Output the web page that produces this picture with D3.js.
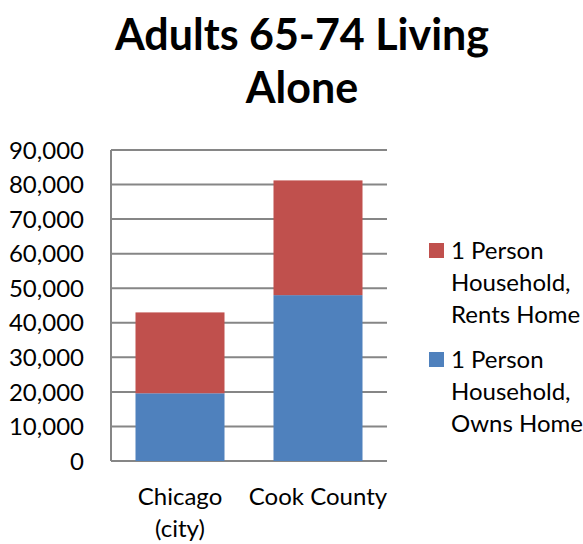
<!DOCTYPE html>
<html>
<head>
<meta charset="utf-8">
<script src="https://cdn.jsdelivr.net/npm/d3@7"></script>
<style>
  body { margin: 0; background: #fff; }
  svg { display: block; font-family: Lato, "Open Sans", sans-serif; }
</style>
</head>
<body>
<svg id="chart" width="583" height="544"></svg>
<script>
// categories and series
const categories = ["Chicago (city)", "Cook County"];
const ownsHome = [19600, 48000];
const rentsHome = [23400, 33200];
const series = ["1 Person Household, Owns Home", "1 Person Household, Rents Home"];
const yTicks = [0, 10000, 20000, 30000, 40000, 50000, 60000, 70000, 80000, 90000];

const colors = { owns: "#4F81BD", rents: "#C0504D" };

const svg = d3.select("#chart");
const margin = { left: 111, right: 196, top: 150, bottom: 83 };
const width = 583 - margin.left - margin.right;
const height = 544 - margin.top - margin.bottom;

const x = d3.scaleBand().domain(categories).range([0, width]).paddingInner(0.355).paddingOuter(0.1775);
const y = d3.scaleLinear().domain([0, 90000]).range([height, 0]);

// title
svg.append("text")
  .attr("x", 302).attr("y", 50)
  .attr("text-anchor", "middle")
  .attr("font-size", 43).attr("font-weight", "bold")
  .text("Adults 65-74 Living");
svg.append("text")
  .attr("x", 302).attr("y", 103)
  .attr("text-anchor", "middle")
  .attr("font-size", 43).attr("font-weight", "bold")
  .text("Alone");

const g = svg.append("g").attr("transform", `translate(${margin.left},${margin.top})`);

// gridlines
g.selectAll(".grid").data(yTicks).join("line")
  .attr("x1", 0).attr("x2", width)
  .attr("y1", d => y(d)).attr("y2", d => y(d))
  .attr("stroke", "#868686").attr("stroke-width", 2);

// stacked bars
const rows = categories.map((c, i) => ({ cat: c, owns: ownsHome[i], rents: rentsHome[i] }));
const stacked = d3.stack().keys(["owns", "rents"])(rows);

g.selectAll(".layer").data(stacked).join("g")
  .attr("fill", d => colors[d.key])
  .selectAll("rect").data(d => d).join("rect")
  .attr("x", d => x(d.data.cat))
  .attr("width", x.bandwidth())
  .attr("y", d => y(d[1]))
  .attr("height", d => y(d[0]) - y(d[1]));

// y axis line
g.append("line")
  .attr("x1", 0).attr("x2", 0).attr("y1", 0).attr("y2", height)
  .attr("stroke", "#868686").attr("stroke-width", 2);

// y tick labels
const fmt = d3.format(",");
g.selectAll(".ylab").data(yTicks).join("text")
  .attr("x", -27).attr("y", d => y(d))
  .attr("dy", "0.36em")
  .attr("text-anchor", "end")
  .attr("font-size", 24).attr("fill", "#000")
  .text(d => fmt(d));

// x labels
const xLabelLines = [["Chicago", "(city)"], ["Cook County"]];
categories.forEach((c, i) => {
  const t = g.append("text")
    .attr("x", x(c) + x.bandwidth() / 2)
    .attr("y", height + 44)
    .attr("text-anchor", "middle")
    .attr("font-size", 24);
  xLabelLines[i].forEach((line, j) => {
    t.append("tspan").attr("x", x(c) + x.bandwidth() / 2).attr("dy", j === 0 ? 0 : 32).text(line);
  });
});

// legend (rents first, as in the picture)
const legendItems = [
  { key: "rents", lines: ["1 Person", "Household,", "Rents Home"] },
  { key: "owns", lines: ["1 Person", "Household,", "Owns Home"] }
];
const legend = svg.append("g").attr("transform", "translate(429,243)");
legendItems.forEach((item, i) => {
  const gy = i * 109;
  legend.append("rect")
    .attr("x", 0).attr("y", gy)
    .attr("width", 15).attr("height", 15)
    .attr("fill", colors[item.key]);
  const t = legend.append("text")
    .attr("x", 22).attr("y", gy + 16)
    .attr("font-size", 24);
  item.lines.forEach((line, j) => {
    t.append("tspan").attr("x", 22).attr("dy", j === 0 ? 0 : 32).text(line);
  });
});
</script>
</body>
</html>
